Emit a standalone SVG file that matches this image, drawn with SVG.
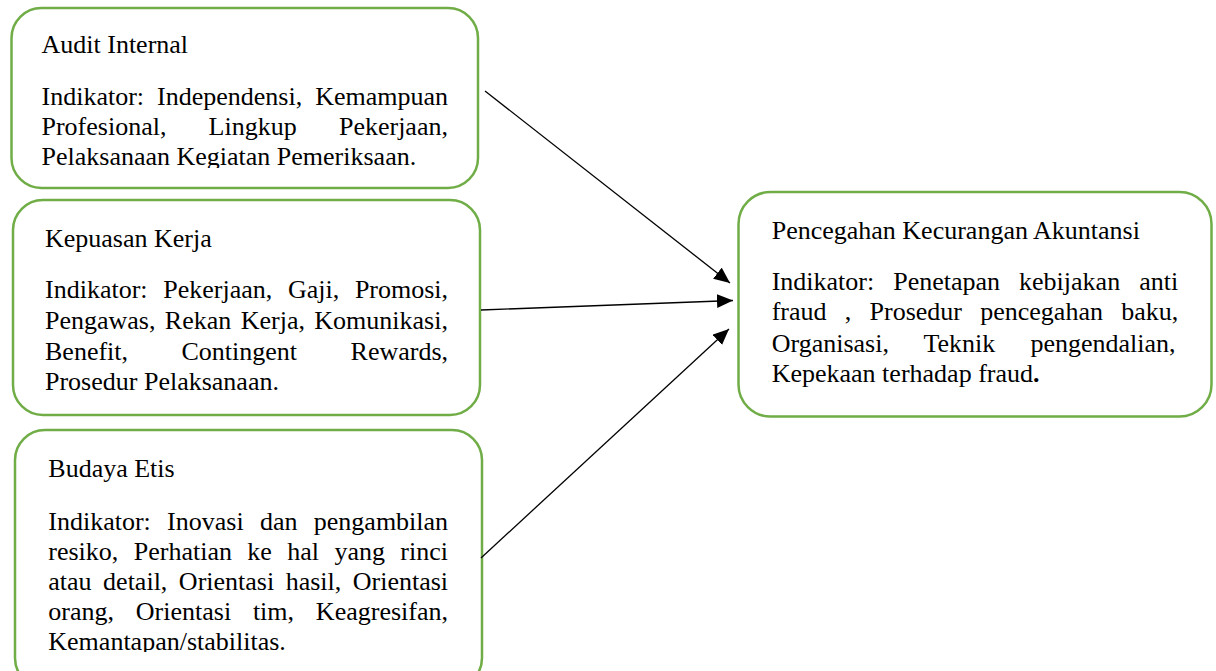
<svg xmlns="http://www.w3.org/2000/svg" width="1216" height="671" viewBox="0 0 1216 671">
<style>
.box{fill:#fff;stroke:#70AD47;stroke-width:2.5}
.t{font-family:"Liberation Serif","Times New Roman",serif;font-size:26px;fill:#000}
.c{stroke:#000;stroke-width:1.3;fill:none}
</style>
<defs>
<marker id="ah" markerUnits="userSpaceOnUse" markerWidth="18" markerHeight="16" refX="16" refY="7" orient="auto"><path d="M0,0 L16,7 L0,14 z" fill="#000"/></marker>
<clipPath id="c1"><rect x="0" y="0" width="500" height="168"/></clipPath>
<clipPath id="c3"><rect x="0" y="430" width="500" height="222"/></clipPath>
</defs>
<rect width="1216" height="671" fill="#fff"/>
<g id="audit-internal">
<rect class="box" x="11.5" y="8" width="466.5" height="180" rx="30"/>
<g clip-path="url(#c1)">
<text class="t" x="41.5" y="53">Audit Internal</text>
<text class="t" x="41.5" y="105" word-spacing="6.5">Indikator: Independensi, Kemampuan</text>
<text class="t" x="41.5" y="135" word-spacing="35.7">Profesional, Lingkup Pekerjaan,</text>
<text class="t" x="41.5" y="165">Pelaksanaan Kegiatan Pemeriksaan.</text>
</g>
</g>
<g id="kepuasan-kerja">
<rect class="box" x="13" y="200" width="467" height="215" rx="30"/>
<text class="t" x="45" y="247">Kepuasan Kerja</text>
<text class="t" x="45" y="298" word-spacing="9.2">Indikator: Pekerjaan, Gaji, Promosi,</text>
<text class="t" x="45" y="328.5" word-spacing="2.9">Pengawas, Rekan Kerja, Komunikasi,</text>
<text class="t" x="45" y="359.5" word-spacing="47">Benefit, Contingent Rewards,</text>
<text class="t" x="45" y="390">Prosedur Pelaksanaan.</text>
</g>
<g id="budaya-etis">
<rect class="box" x="15" y="430" width="467" height="258" rx="30"/>
<g clip-path="url(#c3)">
<text class="t" x="48.3" y="477">Budaya Etis</text>
<text class="t" x="48.3" y="530" word-spacing="9.8">Indikator: Inovasi dan pengambilan</text>
<text class="t" x="48.3" y="560" word-spacing="8.9">resiko, Perhatian ke hal yang rinci</text>
<text class="t" x="48.3" y="590" word-spacing="5">atau detail, Orientasi hasil, Orientasi</text>
<text class="t" x="48.3" y="620" word-spacing="15.3">orang, Orientasi tim, Keagresifan,</text>
<text class="t" x="48.3" y="650">Kemantapan/stabilitas.</text>
</g>
</g>
<g id="pencegahan">
<rect class="box" x="738.5" y="192" width="473" height="224.5" rx="32"/>
<text class="t" x="771.7" y="238.5">Pencegahan Kecurangan Akuntansi</text>
<text class="t" x="771.7" y="290" word-spacing="12.5">Indikator: Penetapan kebijakan anti</text>
<text class="t" x="771.7" y="320" word-spacing="11.75">fraud , Prosedur pencegahan baku,</text>
<text class="t" x="771.7" y="351.5" word-spacing="28.55">Organisasi, Teknik pengendalian,</text>
<text class="t" x="771.7" y="381.5">Kepekaan terhadap fraud<tspan font-weight="bold">.</tspan></text>
</g>
<g id="connectors">
<line class="c" x1="485" y1="91" x2="730" y2="283" marker-end="url(#ah)"/>
<line class="c" x1="481" y1="310" x2="733" y2="300.5" marker-end="url(#ah)"/>
<line class="c" x1="481" y1="558" x2="729" y2="329" marker-end="url(#ah)"/>
</g>
</svg>
